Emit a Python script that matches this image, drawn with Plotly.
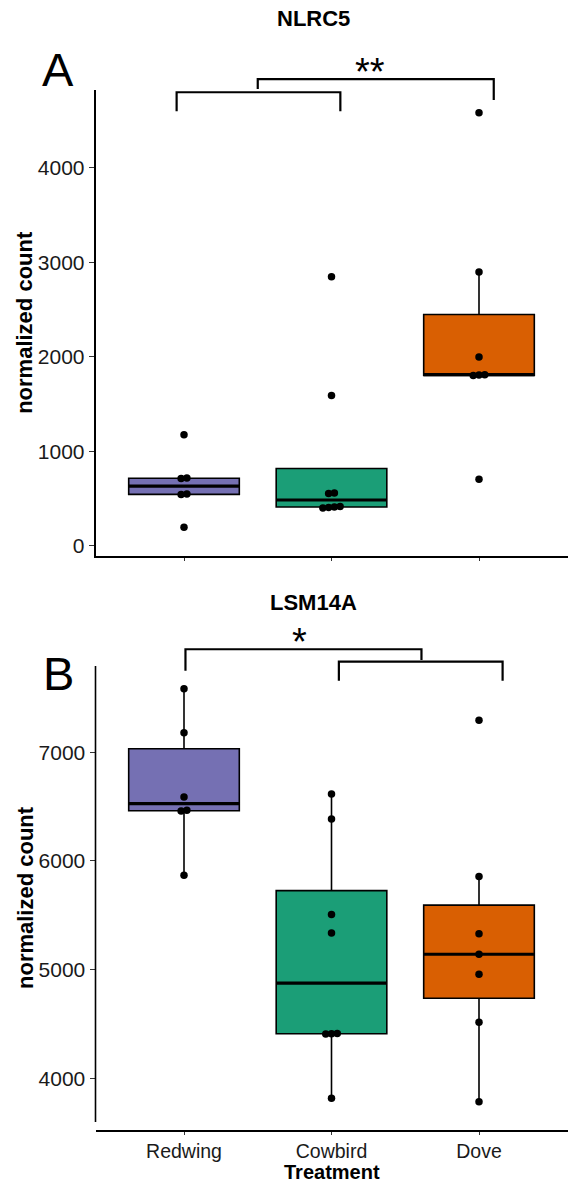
import numpy as np
import plotly.graph_objects as go

# ---------------- data ----------------
categories = ["Redwing", "Cowbird", "Dove"]

nlrc5_redwing = [1175, 715, 712, 548, 541, 195]
nlrc5_cowbird = [2845, 1590, 558, 552, 415, 410, 405, 400]
nlrc5_dove = [4580, 2896, 1997, 1810, 1805, 1800, 703]

lsm14a_redwing = [7584, 7179, 6588, 6465, 6460, 5868]
lsm14a_cowbird = [6615, 6385, 5507, 5337, 4412, 4410, 4408, 3816]
lsm14a_dove = [7293, 5856, 5330, 5141, 4957, 4515, 3785]

yticks_top = [0, 1000, 2000, 3000, 4000]
yticks_bottom = [4000, 5000, 6000, 7000]

# significance brackets: (xmin, xmax, y, drop_left, drop_right) in data units
brackets_top = [(0.95, 2.06, 4798, 4598, 4598), (1.50, 3.10, 4938, 4832, 4716)]
stars_top = [(2.26, 5010, "**")]
brackets_bottom = [(1.01, 2.61, 7947, 7750, 7848), (2.05, 3.16, 7833, 7658, 7658)]
stars_bottom = [(1.78, 8010, "*")]

# ---------------- style ----------------
W, H = 572, 1184
colors = ["#7570B3", "#1B9E77", "#D95F02"]
FONT = "Liberation Sans, Arial, Helvetica, sans-serif"
x_px = (95.5, 567.5)
top_px = (90, 555.7)
bot_px = (666, 1130)
top_range = [-106, 4822]
bot_range = [3524, 7793]


def pdom(px):
    return [1 - px[1] / H, 1 - px[0] / H]


def to_paper(v, rng, dom):
    return dom[0] + (v - rng[0]) / (rng[1] - rng[0]) * (dom[1] - dom[0])


def offsets(vals, thr, step=0.039):
    vals = np.asarray(vals, dtype=float)
    order = np.argsort(vals)
    offs = np.zeros(len(vals))
    groups, cur = [], [order[0]]
    for a, b in zip(order[:-1], order[1:]):
        if vals[b] - vals[a] < thr:
            cur.append(b)
        else:
            groups.append(cur)
            cur = [b]
    groups.append(cur)
    for g in groups:
        k = len(g)
        for j, idx in enumerate(g):
            offs[idx] = (j - (k - 1) / 2) * step
    return offs


fig = go.Figure()

panels = [
    dict(data=[nlrc5_redwing, nlrc5_cowbird, nlrc5_dove], xa="x", ya="y",
         rng=top_range, dom=pdom(top_px), thr=60),
    dict(data=[lsm14a_redwing, lsm14a_cowbird, lsm14a_dove], xa="x2", ya="y2",
         rng=bot_range, dom=pdom(bot_px), thr=55),
]

for p in panels:
    for i, vals in enumerate(p["data"]):
        pos = i + 1
        v = np.asarray(vals, dtype=float)
        q1, med, q3 = np.percentile(v, [25, 50, 75])
        iqr = q3 - q1
        lo = v[v >= q1 - 1.5 * iqr].min()
        hi = v[v <= q3 + 1.5 * iqr].max()
        fig.add_trace(go.Box(
            x=[pos], q1=[q1], median=[med], q3=[q3], lowerfence=[lo], upperfence=[hi],
            width=0.75, fillcolor=colors[i], line=dict(color="black", width=1.6),
            whiskerwidth=0, boxpoints=False, xaxis=p["xa"], yaxis=p["ya"],
            hoverinfo="skip"))
        fig.add_trace(go.Scatter(
            x=[pos - 0.375, pos + 0.375], y=[med, med], mode="lines",
            line=dict(color="black", width=3.2), xaxis=p["xa"], yaxis=p["ya"],
            hoverinfo="skip"))
        offs = offsets(v, p["thr"])
        fig.add_trace(go.Scatter(
            x=pos + offs, y=v, mode="markers",
            marker=dict(color="black", size=7.5), xaxis=p["xa"], yaxis=p["ya"]))

shapes = []
annotations = []


def add_brackets(brs, stars, xa, rng, dom):
    for (x0, x1, y, dl, dr) in brs:
        pts = [(x0, dl), (x0, y), (x1, y), (x1, dr)]
        path = "M " + " L ".join(f"{x},{to_paper(yy, rng, dom)}" for x, yy in pts)
        shapes.append(dict(type="path", path=path, xref=xa, yref="paper",
                           line=dict(color="black", width=2.2)))
    for (x, y, t) in stars:
        annotations.append(dict(x=x, y=to_paper(y, rng, dom), xref=xa, yref="paper",
                                text=t, showarrow=False, xanchor="center", yanchor="middle",
                                font=dict(size=38, color="black", family=FONT)))


add_brackets(brackets_top, stars_top, "x", top_range, pdom(top_px))
add_brackets(brackets_bottom, stars_bottom, "x2", bot_range, pdom(bot_px))

# bottom panel y axis line (stops slightly above the x axis line)
shapes.append(dict(type="line", xref="paper", yref="paper",
                   x0=x_px[0] / W, x1=x_px[0] / W, y0=1 - 1122 / H, y1=1 - 666 / H,
                   line=dict(color="black", width=1.6)))


def txt(x, y, t, size, bold=False, angle=0, yanchor="middle"):
    annotations.append(dict(x=x / W, y=1 - y / H, xref="paper", yref="paper", text=t,
                            showarrow=False, xanchor="center", yanchor=yanchor,
                            textangle=angle,
                            font=dict(size=size, color="black", family=FONT,
                                      weight="bold" if bold else "normal")))


txt(313, 19, "NLRC5", 22, bold=True)
txt(313, 602, "LSM14A", 22, bold=True)
txt(58, 70, "A", 47)
txt(58, 673, "B", 47)
txt(25, (top_px[0] + top_px[1]) / 2, "normalized count", 22, bold=True, angle=-90)
txt(25, (bot_px[0] + bot_px[1]) / 2, "normalized count", 22, bold=True, angle=-90)
txt(331.5, 1185, "Treatment", 20, bold=True, yanchor="bottom")

axis_common = dict(showgrid=False, zeroline=False, ticks="outside", ticklen=5,
                   tickwidth=1.3, tickcolor="#333333", linecolor="black", linewidth=1.6,
                   tickfont=dict(size=21, color="#1a1a1a", family=FONT))
xaxis_common = dict(axis_common, ticklen=3, tickfont=dict(size=19.5, color="#1a1a1a", family=FONT))

xdom = [x_px[0] / W, x_px[1] / W]
fig.update_layout(
    width=W, height=H, margin=dict(l=0, r=0, t=0, b=0),
    paper_bgcolor="white", plot_bgcolor="white", showlegend=False,
    xaxis=dict(domain=xdom, range=[0.4, 3.6], tickvals=[1, 2, 3], showticklabels=False,
               showline=True, anchor="y", **xaxis_common),
    yaxis=dict(domain=pdom(top_px), range=top_range, tickvals=yticks_top,
               showline=True, anchor="x", **axis_common),
    xaxis2=dict(domain=xdom, range=[0.4, 3.6], tickvals=[1, 2, 3], ticktext=categories,
                showline=True, anchor="y2", **xaxis_common),
    yaxis2=dict(domain=pdom(bot_px), range=bot_range, tickvals=yticks_bottom,
                showline=False, anchor="x2", **axis_common),
    shapes=shapes, annotations=annotations,
)

fig.write_html("out.html")
